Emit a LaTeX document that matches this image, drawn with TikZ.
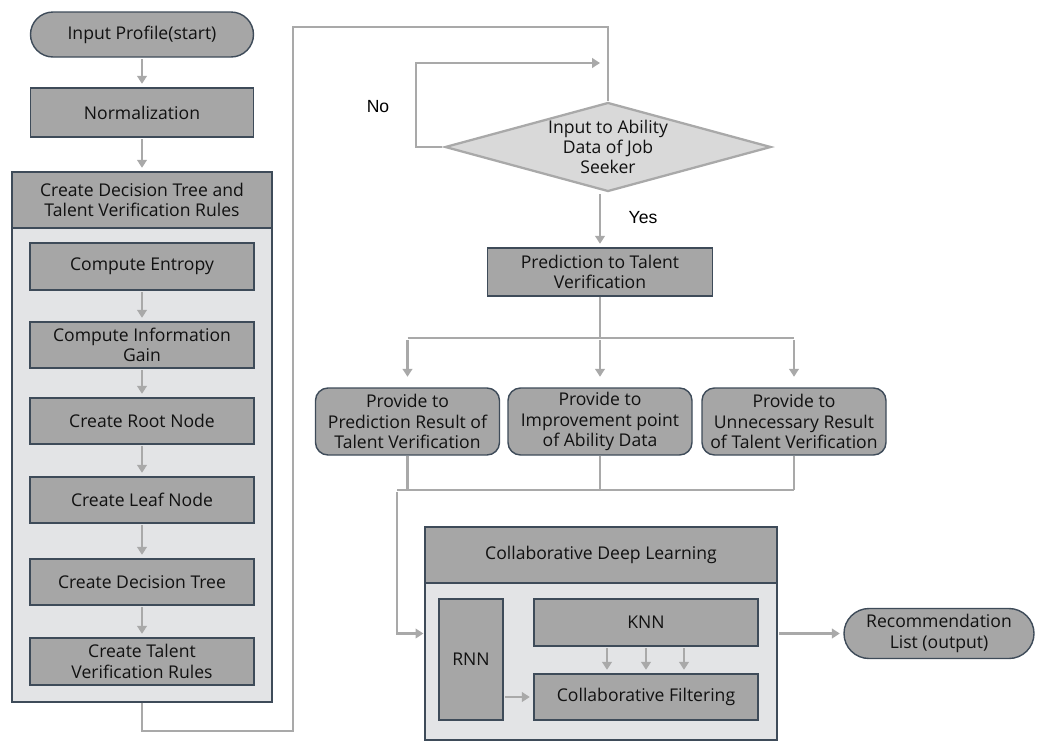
\documentclass[tikz,border=0pt]{standalone}
\usepackage{fontspec}
\setmainfont{Open Sans}
\newfontfamily\labelfont{Liberation Sans}
\usepackage{tikz}
\usetikzlibrary{shapes.geometric,arrows.meta,positioning,calc}
\definecolor{FCGray}   {HTML}{A6A6A6}
\definecolor{FCGrayLt} {HTML}{E3E4E6}
\definecolor{FCGrayMd} {HTML}{D9D9D9}
\definecolor{FCLine}   {HTML}{A9A9A9}
\definecolor{FCEdge}   {HTML}{3E4B59}
\definecolor{FCText}   {HTML}{111111}

\begin{document}
\begin{tikzpicture}[
    font=\fontsize{10}{11.5}\selectfont, text=FCText,
    box/.style={draw=FCEdge,fill=FCGray,line width=0.8pt,align=center,inner sep=1pt},
    sbox/.style={box,minimum width=4.48cm},
    term/.style={box,rounded corners=0.45cm},
    pbox/.style={box,rounded corners=0.25cm,minimum width=3.68cm,minimum height=1.34cm},
    panel/.style={draw=FCEdge,fill=FCGrayLt,line width=0.8pt},
    dec/.style={diamond,draw=FCLine,fill=FCGrayMd,line width=1.3pt,aspect=3.66,inner sep=0pt,
                minimum width=6.52cm,minimum height=1.78cm,align=center},
    flow/.style={draw=FCLine,line width=1.3pt,-{Triangle[width=5.5pt,length=4.5pt]},shorten >=2pt,shorten <=1pt},
    link/.style={draw=FCLine,line width=1.3pt},
    lbl/.style={font=\labelfont\fontsize{10}{11.5}\selectfont,text=black}
  ]
    \useasboundingbox (0,0) rectangle (21.04,-15.06);
    % Left column
    \node[term,minimum width=4.46cm,minimum height=0.9cm]  (start) at (2.84,-0.69) {Input Profile(start)};
    \node[box,minimum width=4.46cm,minimum height=0.98cm]  (norm)  at (2.84,-2.25) {Normalization};
    \node[panel,minimum width=5.2cm,minimum height=10.6cm] (dtpanel) at (2.84,-8.74) {};
    \node[box,minimum width=5.2cm,minimum height=1.12cm]   (dthead)  at (2.84,-4.0)
      {Create Decision Tree and\\Talent Verification Rules};
    \node[sbox,minimum height=0.94cm] (entropy) at (2.84,-5.33)  {Compute Entropy};
    \node[sbox,minimum height=0.92cm] (gain)    at (2.84,-6.90)  {Compute Information\\Gain};
    \node[sbox,minimum height=0.92cm] (root)    at (2.84,-8.42)  {Create Root Node};
    \node[sbox,minimum height=0.92cm] (leaf)    at (2.84,-10.0)  {Create Leaf Node};
    \node[sbox,minimum height=0.92cm] (dtree)   at (2.84,-11.64) {Create Decision Tree};
    \node[sbox,minimum height=0.94cm] (rules)   at (2.84,-13.23) {Create Talent\\Verification Rules};
    \foreach \a/\b in {start/norm,norm/dthead,entropy/gain,gain/root,root/leaf,leaf/dtree,dtree/rules}
      \draw[flow] (\a) -- (\b);

    % Decision
    \node[dec] (dia) at (12.16,-2.94) {Input to Ability\\Data of Job\\Seeker};
    \coordinate (loopA) at (5.86,-14.62);
    \coordinate (loopB) at (5.86,-0.54);
    \draw[link] (dtpanel.south) |- (loopA) -- (loopB) -| (dia.north);
    \coordinate (noTurn) at (8.32,-1.26);
    \draw[flow,shorten >=1.6mm] (dia.west) -| (noTurn) -- (noTurn -| dia.north);
    \node[lbl] (nolbl)  at (7.56,-2.14) {No};
    \node[lbl] (yeslbl) at (12.86,-4.36) {Yes};

    % Prediction and results
    \node[box,minimum width=4.5cm,minimum height=0.96cm] (pred) at (12.0,-5.44)
      {Prediction to Talent\\Verification};
    \draw[flow] (pred.north |- dia.south) -- (pred.north);
    \node[pbox] (p1) at (8.15,-8.43)  {Provide to\\Prediction Result of\\Talent Verification};
    \node[pbox] (p2) at (12.0,-8.43)  {Provide to\\Improvement point\\of Ability Data};
    \node[pbox] (p3) at (15.88,-8.43) {Provide to\\Unnecessary Result\\of Talent Verification};
    \coordinate (split) at (12.0,-6.76);
    \draw[link] (pred.south) -- (split);
    \draw[link] (p1.north |- split) -- (p3.north |- split);
    \foreach \p in {p1,p2,p3}
      \draw[flow,shorten >=6pt] (\p.north |- split) -- (\p.north);
    \coordinate (merge) at (7.94,-9.80);
    \foreach \p in {p1,p2,p3}
      \draw[link] (\p.south) -- (\p.south |- merge);
    \draw[link] (merge) -- (p3.south |- merge);

    % Collaborative deep learning
    \node[panel,minimum width=7.04cm,minimum height=4.26cm] (cdl) at (12.02,-12.67) {};
    \node[box,minimum width=7.04cm,minimum height=1.12cm] (cdlhead) at (12.02,-11.10) {Collaborative Deep Learning};
    \node[box,minimum width=1.28cm,minimum height=2.42cm] (rnn) at (9.42,-13.19) {RNN};
    \node[box,minimum width=4.48cm,minimum height=0.94cm] (knn) at (12.92,-12.45) {KNN};
    \node[box,minimum width=4.48cm,minimum height=0.92cm] (cf)  at (12.92,-13.94) {Collaborative Filtering};
    \draw[flow,shorten >=0.5pt] (merge) |- (cdl.west);
    \foreach \dx in {-0.78,0,0.76}
      \draw[flow] ([xshift=\dx cm]knn.south) -- ([xshift=\dx cm]cf.north);
    \draw[flow] (rnn.east |- cf.west) -- (cf.west);
    \node[term,minimum width=3.8cm,minimum height=1.0cm,rounded corners=0.5cm] (out) at (18.78,-12.67)
      {Recommendation\\List (output)};
    \draw[flow] (cdl.east) -- (out.west);
  \end{tikzpicture}
\end{document}
